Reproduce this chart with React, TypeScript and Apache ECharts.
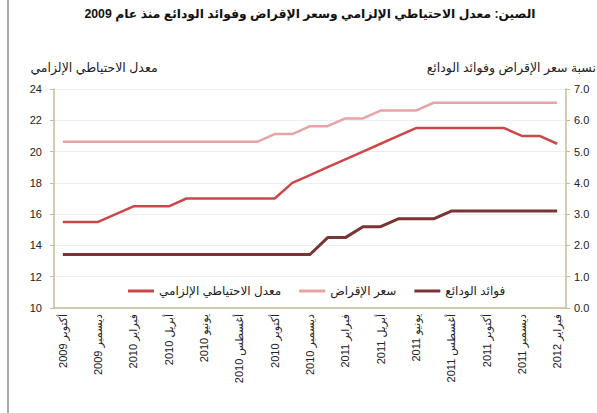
import React, { useEffect, useRef } from "react";
import * as echarts from "echarts";

const titleText = "الصين: معدل الاحتياطي الإلزامي وسعر الإقراض وفوائد الودائع منذ عام 2009";
const leftAxisName = "معدل الاحتياطي الإلزامي";
const rightAxisName = "نسبة سعر الإقراض وفوائد الودائع";

const months = [
  "أكتوبر 2009", "نوفمبر 2009", "ديسمبر 2009",
  "يناير 2010", "فبراير 2010", "مارس 2010", "أبريل 2010", "مايو 2010", "يونيو 2010",
  "يوليو 2010", "أغسطس 2010", "سبتمبر 2010", "أكتوبر 2010", "نوفمبر 2010", "ديسمبر 2010",
  "يناير 2011", "فبراير 2011", "مارس 2011", "أبريل 2011", "مايو 2011", "يونيو 2011",
  "يوليو 2011", "أغسطس 2011", "سبتمبر 2011", "أكتوبر 2011", "نوفمبر 2011", "ديسمبر 2011",
  "يناير 2012", "فبراير 2012",
];

const seriesNames = ["معدل الاحتياطي الإلزامي", "سعر الإقراض", "فوائد الودائع"];

const reserveRatio = [
  15.5, 15.5, 15.5, 16.0, 16.5, 16.5, 16.5, 17.0, 17.0, 17.0, 17.0, 17.0, 17.0,
  18.0, 18.5, 19.0, 19.5, 20.0, 20.5, 21.0, 21.5, 21.5, 21.5, 21.5, 21.5, 21.5,
  21.0, 21.0, 20.5,
];

const lendingRate = [
  5.31, 5.31, 5.31, 5.31, 5.31, 5.31, 5.31, 5.31, 5.31, 5.31, 5.31, 5.31,
  5.56, 5.56, 5.81, 5.81, 6.06, 6.06, 6.31, 6.31, 6.31,
  6.56, 6.56, 6.56, 6.56, 6.56, 6.56, 6.56, 6.56,
];

const depositRate = [
  1.71, 1.71, 1.71, 1.71, 1.71, 1.71, 1.71, 1.71, 1.71, 1.71, 1.71, 1.71, 1.71, 1.71, 1.71,
  2.25, 2.25, 2.6, 2.6, 2.85, 2.85, 2.85,
  3.1, 3.1, 3.1, 3.1, 3.1, 3.1, 3.1,
];

const FONT = "'Liberation Sans', 'DejaVu Sans', Arial, sans-serif";
const AXIS_COLOR = "#c4bd97";
const colors = ["#cc4848", "#e8a3a3", "#7a3434"];

export default function App() {
  const ref = useRef<HTMLDivElement>(null);

  useEffect(() => {
    if (!ref.current) return;
    const chart = echarts.init(ref.current, undefined, { renderer: "svg" });
    chart.setOption({
      animation: false,
      backgroundColor: "#ffffff",
      textStyle: { fontFamily: FONT },
      graphic: [
        {
          type: "line",
          shape: { x1: 8, y1: 0, x2: 8, y2: 413 },
          style: { stroke: "#555", lineWidth: 1 },
        },
        {
          type: "text",
          x: 310,
          y: 14,
          style: {
            text: titleText,
            fontSize: 12.3,
            fontWeight: "bold",
            fontFamily: FONT,
            fill: "#111",
            textAlign: "center",
            textVerticalAlign: "middle",
          },
        },
        {
          type: "text",
          x: 94,
          y: 68,
          style: {
            text: leftAxisName,
            fontSize: 12.5,
            fontFamily: FONT,
            fill: "#222",
            textAlign: "center",
            textVerticalAlign: "middle",
          },
        },
        {
          type: "text",
          x: 596,
          y: 68,
          style: {
            text: rightAxisName,
            fontSize: 12.5,
            fontFamily: FONT,
            fill: "#222",
            textAlign: "right",
            textVerticalAlign: "middle",
          },
        },
      ],
      legend: {
        left: 123,
        top: 280,
        itemWidth: 26,
        itemHeight: 3,
        itemGap: 18,
        icon: "rect",
        textStyle: { fontSize: 12, color: "#222", fontFamily: FONT },
        data: seriesNames,
      },
      grid: { left: 54, right: 31, top: 89, bottom: 105, containLabel: false },
      xAxis: {
        type: "category",
        data: months,
        boundaryGap: true,
        axisLine: { lineStyle: { color: AXIS_COLOR, width: 1.5 } },
        axisTick: { interval: 1, length: 4, lineStyle: { color: AXIS_COLOR } },
        axisLabel: {
          interval: 1,
          rotate: 90,
          fontSize: 11,
          color: "#222",
          margin: 6,
          fontFamily: FONT,
        },
        splitLine: { show: false },
      },
      yAxis: [
        {
          type: "value",
          min: 10,
          max: 24,
          interval: 2,
          axisLine: { show: true, lineStyle: { color: AXIS_COLOR, width: 1.5 } },
          axisTick: { show: true, length: 4, lineStyle: { color: AXIS_COLOR } },
          axisLabel: { fontSize: 11, color: "#222", margin: 12, fontFamily: FONT },
          splitLine: { show: true, lineStyle: { color: "#eeeeee", width: 1 } },
        },
        {
          type: "value",
          min: 0,
          max: 7,
          interval: 1,
          position: "right",
          axisLine: { show: true, lineStyle: { color: AXIS_COLOR, width: 1.5 } },
          axisTick: { show: true, length: 4, lineStyle: { color: AXIS_COLOR } },
          axisLabel: {
            fontSize: 11,
            color: "#222",
            margin: 8,
            fontFamily: FONT,
            formatter: (v: number) => v.toFixed(1),
          },
          splitLine: { show: false },
        },
      ],
      series: [
        {
          name: seriesNames[0],
          type: "line",
          yAxisIndex: 0,
          data: reserveRatio,
          symbol: "none",
          lineStyle: { color: colors[0], width: 2.5 },
          itemStyle: { color: colors[0] },
        },
        {
          name: seriesNames[1],
          type: "line",
          yAxisIndex: 1,
          data: lendingRate,
          symbol: "none",
          lineStyle: { color: colors[1], width: 2.5 },
          itemStyle: { color: colors[1] },
        },
        {
          name: seriesNames[2],
          type: "line",
          yAxisIndex: 1,
          data: depositRate,
          symbol: "none",
          lineStyle: { color: colors[2], width: 3 },
          itemStyle: { color: colors[2] },
        },
      ],
    });
    return () => chart.dispose();
  }, []);

  return (
    <div
      ref={ref}
      style={{ position: "absolute", left: 0, top: 0, width: 597, height: 413 }}
    />
  );
}
